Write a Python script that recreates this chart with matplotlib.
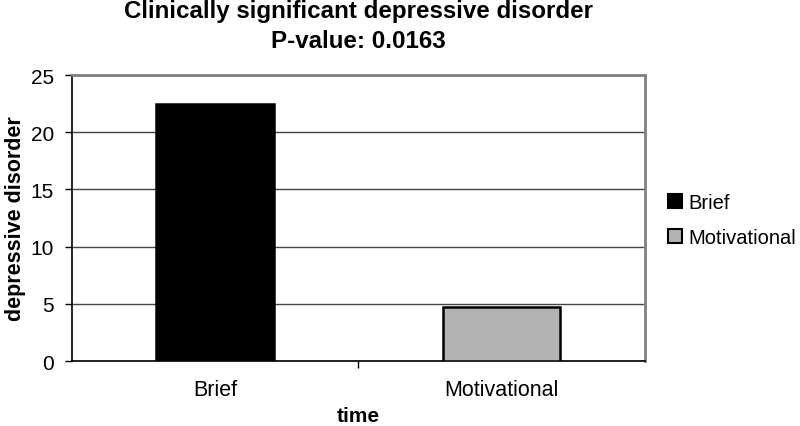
import matplotlib
matplotlib.use("Agg")
import matplotlib.pyplot as plt
from matplotlib.patches import Patch

categories = ["Brief", "Motivational"]
values = [22.5, 4.7]
colors = ["#000000", "#b3b3b3"]
yticks = [0, 5, 10, 15, 20, 25]

plt.rcParams['font.family'] = ['Liberation Sans', 'DejaVu Sans']

fig = plt.figure(figsize=(8, 4.27), dpi=100)
ax = fig.add_axes([0.09, 0.152, 0.716, 0.670])

x = list(range(len(categories)))
ax.bar(x, values, width=0.41, color=colors, edgecolor="black", linewidth=1.8, zorder=3)
ax.set_xlim(-0.5, 1.5)
ax.set_ylim(0, 25)
ax.set_yticks(yticks)
ax.set_yticklabels([str(t) for t in yticks], fontsize=15)
ax.set_xticks(x)
ax.set_xticklabels(categories, fontsize=15.5)
ax.set_xticks([0.5], minor=True)
ax.tick_params(axis='x', which='major', length=0, pad=13)
ax.tick_params(axis='x', which='minor', length=5, width=1, color='black', direction='out')
ax.tick_params(axis='y', length=5, width=1, pad=8, direction='out')
ax.yaxis.grid(True, color='#444444', linewidth=1, zorder=0)

for s in ['top', 'right']:
    ax.spines[s].set_color('#808080')
    ax.spines[s].set_linewidth(2)
ax.spines['left'].set_color('black')
ax.spines['bottom'].set_color('black')
ax.spines['left'].set_linewidth(1.2)
ax.spines['bottom'].set_linewidth(1.2)

ax.set_ylabel("depressive disorder", fontsize=15.5, fontweight='bold', va='center')
ax.yaxis.set_label_coords(-0.099, 0.5)
ax.set_xlabel("time", fontsize=15, fontweight='bold', va='center')
ax.xaxis.set_label_coords(0.5, -0.19)
ax.set_title("Clinically significant depressive disorder\nP-value: 0.0163", fontsize=17.4,
             fontweight='bold', pad=20, linespacing=1.4)

handles = [Patch(facecolor=c, edgecolor='black', linewidth=1.5, label=l) for c, l in zip(colors, categories)]
leg = fig.legend(handles=handles, loc='center left', bbox_to_anchor=(0.835, 0.482), frameon=False,
                 fontsize=14.5, handlelength=0.7, handleheight=0.7, handletextpad=0.3, labelspacing=0.8,
                 borderaxespad=0, borderpad=0)

fig.savefig("out.png", dpi=100)
